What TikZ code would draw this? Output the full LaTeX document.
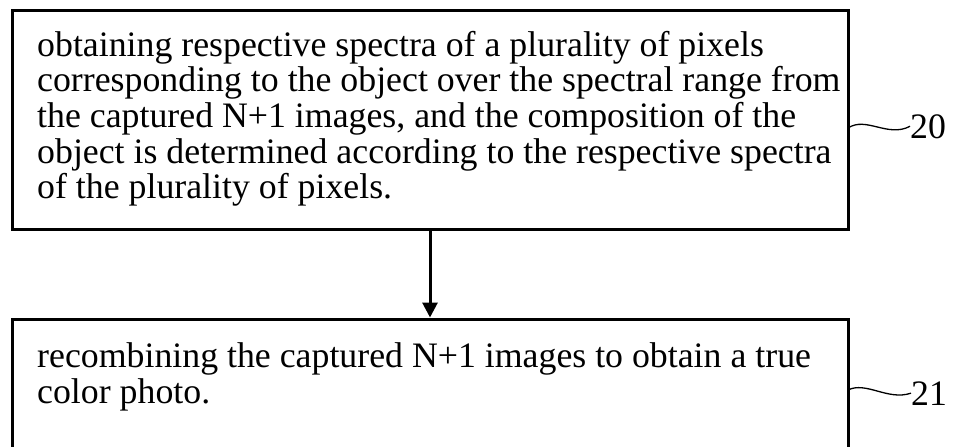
\documentclass[tikz,border=0pt]{standalone}
\usepackage{fontspec}
\setmainfont{Liberation Serif}
\usetikzlibrary{arrows.meta}
\begin{document}
\begin{tikzpicture}[x=1pt,y=1pt,
  stepbox/.style={draw, line width=3pt, inner sep=0pt, minimum width=836pt},
  steptext/.style={inner sep=0pt, align=left, anchor=base west,
    font=\fontsize{35.8}{35.7}\selectfont},
  reflabel/.style={inner sep=0pt, anchor=base west,
    font=\fontsize{35.8}{35.7}\selectfont},
  flowarrow/.style={line width=3pt, -{Triangle[width=15pt,length=15pt]}},
  tilde/.style={line width=1.3pt}]
\useasboundingbox (0,0) rectangle (953,-447);
\node[stepbox, minimum height=219pt] (b1) at (430,-119.5) {};
\node[stepbox, minimum height=141pt] (b2) at (430,-389.5) {};
\node[steptext] (t1) at (37,-198.8) {obtaining respective spectra of a plurality of pixels\\
corresponding to the object over the spectral range from\\
the captured N+1 images, and the composition of the\\
object is determined according to the respective spectra\\
of the plurality of pixels.};
\node[steptext] (t2) at (37,-403) {recombining the captured N+1 images to obtain a true\\
color photo.};
\draw[flowarrow] (b1.south) -- (b2.north);
\node[reflabel] (l20) at (910,-138) {20};
\node[reflabel] (l21) at (911,-405) {21};
\coordinate (c20) at (848,-128);
\coordinate (c21) at (848,-390);
\draw[tilde] (c20) .. controls (866,-116) and (888,-138) .. (l20.west);
\draw[tilde] (c21) .. controls (866,-381) and (888,-401) .. (l21.west);
\end{tikzpicture}
\end{document}
